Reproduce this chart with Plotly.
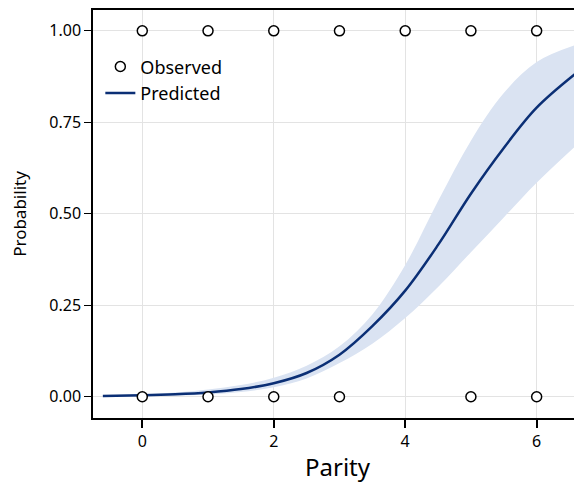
import plotly.graph_objects as go

# Observed data
obs_x = [0, 1, 2, 3, 4, 5, 6, 0, 1, 2, 3, 5, 6]
obs_y = [1, 1, 1, 1, 1, 1, 1, 0, 0, 0, 0, 0, 0]

# Predicted curve and confidence band
pred_x = [-0.6, 0, 0.5, 1, 1.5, 2, 2.5, 3, 3.5, 4, 4.5, 5, 5.5, 6, 6.62]
pred_y = [0.002, 0.004, 0.007, 0.012, 0.021, 0.037, 0.065, 0.115, 0.193, 0.29, 0.415, 0.555, 0.68, 0.79, 0.887]
upper_y = [0.004, 0.007, 0.012, 0.02, 0.032, 0.052, 0.085, 0.138, 0.225, 0.36, 0.535, 0.70, 0.83, 0.915, 0.963]
lower_y = [0.0008, 0.0017, 0.003, 0.006, 0.013, 0.026, 0.05, 0.092, 0.145, 0.215, 0.30, 0.395, 0.49, 0.585, 0.69]

x_ticks = [0, 2, 4, 6]
y_ticks = [0, 0.25, 0.5, 0.75, 1.0]

FONT = "Noto Sans"
LINE = "#0b2f75"
BAND = "#dae3f2"

fig = go.Figure()
fig.add_trace(go.Scatter(x=pred_x, y=upper_y, mode="lines", line=dict(width=0, shape="spline"),
                         showlegend=False, hoverinfo="skip"))
fig.add_trace(go.Scatter(x=pred_x, y=lower_y, mode="lines", line=dict(width=0, shape="spline"),
                         fill="tonexty", fillcolor=BAND, showlegend=False, hoverinfo="skip"))
fig.add_trace(go.Scatter(x=pred_x, y=pred_y, mode="lines", name="Predicted", legendrank=2,
                         line=dict(color=LINE, width=2.5, shape="spline")))
fig.add_trace(go.Scatter(x=obs_x, y=obs_y, mode="markers", name="Observed", legendrank=1,
                         marker=dict(symbol="circle", size=10, color="white",
                                     line=dict(color="black", width=1.5))))

fig.update_layout(
    width=582, height=483,
    margin=dict(l=85, r=8, t=2, b=73),
    paper_bgcolor="white", plot_bgcolor="white",
    font=dict(family=FONT, color="black", size=15),
    legend=dict(x=0.015, y=0.906, xanchor="left", yanchor="top", traceorder="normal",
                bgcolor="rgba(0,0,0,0)", font=dict(size=18, family=FONT), tracegroupgap=0,
                itemwidth=30),
    showlegend=True,
)
fig.update_xaxes(range=[-0.75, 6.69], tickvals=x_ticks, ticktext=[str(v) for v in x_ticks],
                 automargin=False,
                 showgrid=True, gridcolor="#e3e3e3", gridwidth=1, zeroline=False,
                 showline=True, linecolor="black", linewidth=1.5, mirror=True,
                 ticks="outside", ticklen=8, tickcolor="black", tickwidth=1.5,
                 title=dict(text="Parity", font=dict(size=24, family=FONT), standoff=8),
                 tickfont=dict(size=16, family=FONT))
fig.update_yaxes(range=[-0.058, 1.057], tickvals=y_ticks, ticktext=[f"{v:.2f}" for v in y_ticks],
                 automargin=False,
                 showgrid=True, gridcolor="#e3e3e3", gridwidth=1, zeroline=False,
                 showline=True, linecolor="black", linewidth=1.5, mirror=False,
                 ticks="outside", ticklen=7, tickcolor="black", tickwidth=1,
                 title=dict(text="Probability", font=dict(size=17, family=FONT), standoff=18),
                 tickfont=dict(size=16, family=FONT))

fig.write_html("out.html")
